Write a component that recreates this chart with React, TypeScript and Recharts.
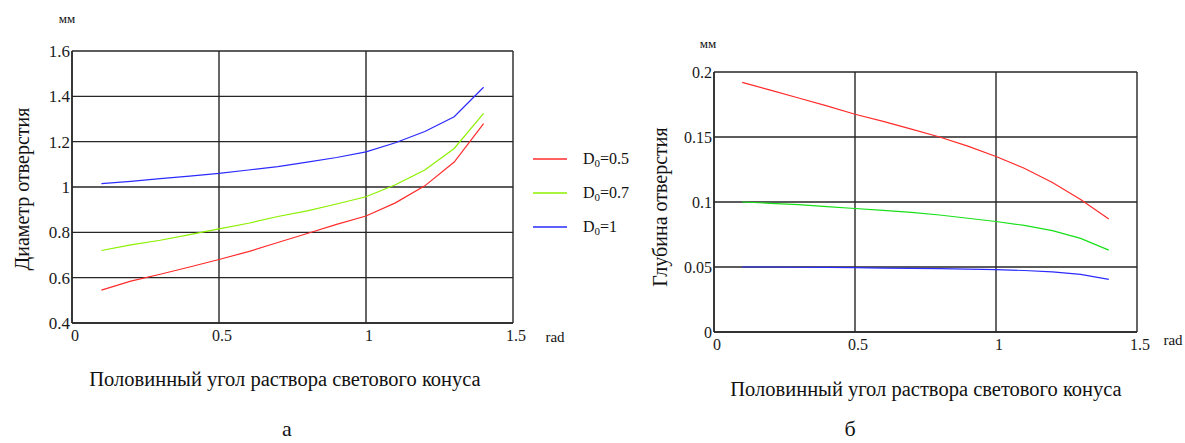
import { CartesianGrid, Line, LineChart, XAxis, YAxis } from "recharts";

const FONT = "Liberation Serif, Times New Roman, DejaVu Serif, serif";
const GRID = "#262626";

// half-angle of the light cone, rad
const angle = [0.1, 0.2, 0.3, 0.4, 0.5, 0.6, 0.7, 0.8, 0.9, 1.0, 1.1, 1.2, 1.3, 1.4];

// (а) hole diameter, mm
const diameterD05 = [0.545, 0.585, 0.615, 0.647, 0.68, 0.715, 0.755, 0.795, 0.835, 0.872, 0.93, 1.005, 1.11, 1.28];
const diameterD07 = [0.72, 0.745, 0.765, 0.79, 0.815, 0.84, 0.87, 0.895, 0.925, 0.957, 1.01, 1.075, 1.17, 1.325];
const diameterD1 = [1.015, 1.025, 1.037, 1.048, 1.06, 1.075, 1.09, 1.11, 1.13, 1.155, 1.195, 1.245, 1.31, 1.44];

// (б) hole depth, mm
const depthD05 = [0.192, 0.186, 0.18, 0.174, 0.1675, 0.162, 0.156, 0.15, 0.143, 0.135, 0.126, 0.115, 0.102, 0.087];
const depthD07 = [0.1, 0.099, 0.098, 0.0965, 0.095, 0.0935, 0.092, 0.09, 0.0875, 0.085, 0.082, 0.078, 0.072, 0.063];
const depthD1 = [0.05, 0.05, 0.0498, 0.0497, 0.0495, 0.0492, 0.049, 0.0487, 0.0484, 0.048, 0.0473, 0.0462, 0.0443, 0.0405];

const xTicks = [0, 0.5, 1, 1.5];
const diameterTicks = [0.4, 0.6, 0.8, 1, 1.2, 1.4, 1.6];
const depthTicks = [0, 0.05, 0.1, 0.15, 0.2];

const d0Values = ["0.5", "0.7", "1"];

const diameterData = angle.map((a, i) => ({
  angle: a,
  d05: diameterD05[i],
  d07: diameterD07[i],
  d1: diameterD1[i],
}));

const depthData = angle.map((a, i) => ({
  angle: a,
  d05: depthD05[i],
  d07: depthD07[i],
  d1: depthD1[i],
}));

interface SeriesDef {
  key: string;
  d0: string;
  color: string;
}

const diameterSeries: SeriesDef[] = [
  { key: "d05", d0: d0Values[0], color: "#ff2b2b" },
  { key: "d07", d0: d0Values[1], color: "#8cf000" },
  { key: "d1", d0: d0Values[2], color: "#2b2bff" },
];

const depthSeries: SeriesDef[] = [
  { key: "d05", d0: d0Values[0], color: "#ff2b2b" },
  { key: "d07", d0: d0Values[1], color: "#18e018" },
  { key: "d1", d0: d0Values[2], color: "#2b2bff" },
];

const textStyle = { fontFamily: FONT, fill: "#111" };

interface PanelProps {
  data: Record<string, number>[];
  series: SeriesDef[];
  yTicks: number[];
  left: number;
  width: number;
  height: number;
  margin: { top: number; right: number; bottom: number; left: number };
  xAxisHeight: number;
  yTickSize: number;
  xTickSize: number;
}

function Panel({ data, series, yTicks, left, width, height, margin, xAxisHeight, yTickSize, xTickSize }: PanelProps) {
  return (
    <div style={{ position: "absolute", left, top: 0, fontFamily: FONT }}>
      <LineChart width={width} height={height} data={data} margin={margin} style={{ fontFamily: FONT }}>
        <CartesianGrid stroke={GRID} strokeWidth={1.4} />
        <XAxis
          type="number"
          dataKey="angle"
          domain={[0, 1.5]}
          ticks={xTicks}
          height={xAxisHeight}
          tickLine={false}
          tickSize={0}
          tickMargin={7}
          axisLine={{ stroke: GRID, strokeWidth: 1.4 }}
          tick={{ fontSize: xTickSize, fill: "#1a1a1a", fontFamily: FONT, dx: 3 }}
        />
        <YAxis
          type="number"
          domain={[yTicks[0], yTicks[yTicks.length - 1]]}
          ticks={yTicks}
          width={60}
          tickLine={false}
          tickSize={0}
          tickMargin={2}
          axisLine={{ stroke: GRID, strokeWidth: 1.4 }}
          tick={{ fontSize: yTickSize, fill: "#1a1a1a", fontFamily: FONT }}
        />
        {series.map((s) => (
          <Line
            key={s.key}
            type="linear"
            dataKey={s.key}
            stroke={s.color}
            strokeWidth={1.2}
            dot={false}
            isAnimationActive={false}
          />
        ))}
      </LineChart>
    </div>
  );
}

export default function App() {
  return (
    <div
      style={{
        position: "absolute",
        left: 0,
        top: 0,
        width: 1185,
        height: 443,
        background: "#fff",
        fontFamily: FONT,
      }}
    >
      <Panel
        data={diameterData}
        series={diameterSeries}
        yTicks={diameterTicks}
        left={0}
        width={560}
        height={360}
        margin={{ top: 51, right: 47, bottom: 0, left: 12 }}
        xAxisHeight={37}
        yTickSize={17}
        xTickSize={16}
      />
      <Panel
        data={depthData}
        series={depthSeries}
        yTicks={depthTicks}
        left={600}
        width={585}
        height={370}
        margin={{ top: 72, right: 48, bottom: 0, left: 54 }}
        xAxisHeight={38}
        yTickSize={16}
        xTickSize={16}
      />
      <svg
        width={1185}
        height={443}
        style={{ position: "absolute", left: 0, top: 0, pointerEvents: "none", fontFamily: FONT }}
      >
        <text x={67} y={23} fontSize={13} textAnchor="middle" style={textStyle}>мм</text>
        <text x={708} y={48} fontSize={13} textAnchor="middle" style={textStyle}>мм</text>
        <text x={555} y={342} fontSize={15} textAnchor="middle" style={textStyle}>rad</text>
        <text x={1173} y={345} fontSize={15} textAnchor="middle" style={textStyle}>rad</text>

        <text
          x={22}
          y={189}
          fontSize={20}
          textAnchor="middle"
          dominantBaseline="central"
          transform="rotate(-90 22 189)"
          style={textStyle}
        >
          Диаметр отверстия
        </text>
        <text
          x={660}
          y={207}
          fontSize={20}
          textAnchor="middle"
          dominantBaseline="central"
          transform="rotate(-90 660 207)"
          style={textStyle}
        >
          Глубина отверстия
        </text>

        <text x={285} y={386} fontSize={20.5} textAnchor="middle" style={textStyle}>
          Половинный угол раствора светового конуса
        </text>
        <text x={926} y={396} fontSize={20.5} textAnchor="middle" style={textStyle}>
          Половинный угол раствора светового конуса
        </text>

        <text x={287} y={436} fontSize={22} textAnchor="middle" style={textStyle}>а</text>
        <text x={850} y={436} fontSize={22} textAnchor="middle" style={textStyle}>б</text>

        {diameterSeries.map((s, i) => (
          <g key={s.key}>
            <line x1={533} x2={567} y1={159 + i * 34} y2={159 + i * 34} stroke={s.color} strokeWidth={1.3} />
            <text x={583} y={164 + i * 34} fontSize={16} style={textStyle}>
              D<tspan fontSize={11} dy={3}>0</tspan>
              <tspan dy={-3}>={s.d0}</tspan>
            </text>
          </g>
        ))}
      </svg>
    </div>
  );
}
